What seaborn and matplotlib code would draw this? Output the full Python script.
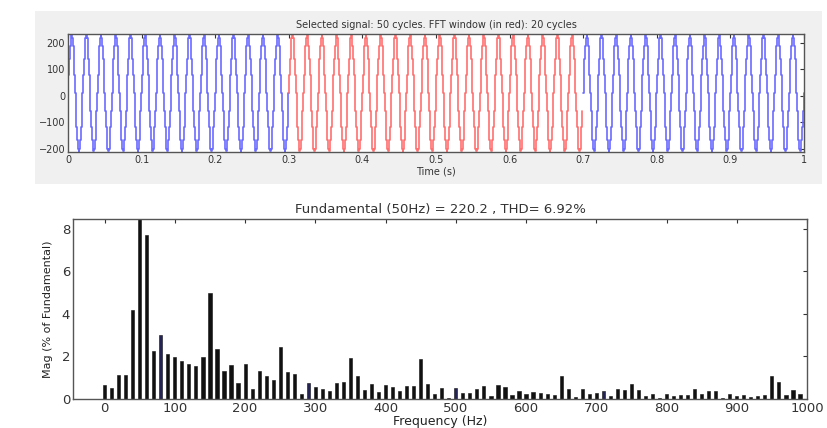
import numpy as np
import pandas as pd
import matplotlib
matplotlib.use("Agg")
import matplotlib.pyplot as plt
import seaborn as sns

# --- signal (top panel): 50 Hz wave, 1 s long, FFT window 0.3..0.7 s in red
fund_freq = 50.0
fund_amp = 220.0
dc_offset = 10.0
sample_rate = 1000
window_start, window_end = 0.3, 0.7

# --- spectrum (bottom panel), every 10 Hz, % of fundamental
freqs = list(range(0, 1000, 10))
mags = [
    0.64, 0.52, 1.14, 1.14, 4.20, 8.60, 7.70, 2.23, 3.00, 2.10,
    1.97, 1.80, 1.65, 1.53, 1.97, 4.96, 2.36, 1.33, 1.60, 0.75,
    1.65, 0.48, 1.33, 1.06, 0.90, 2.42, 1.25, 1.19, 0.25, 0.75,
    0.56, 0.47, 0.36, 0.75, 0.80, 1.92, 1.09, 0.40, 0.72, 0.33,
    0.64, 0.55, 0.36, 0.62, 0.60, 1.89, 0.72, 0.23, 0.52, 0.03,
    0.52, 0.28, 0.28, 0.48, 0.60, 0.15, 0.67, 0.56, 0.20, 0.36,
    0.25, 0.33, 0.28, 0.25, 0.20, 1.10, 0.47, 0.10, 0.47, 0.25,
    0.28, 0.36, 0.15, 0.47, 0.44, 0.70, 0.40, 0.15, 0.25, 0.03,
    0.25, 0.15, 0.20, 0.20, 0.48, 0.25, 0.36, 0.36, 0.03, 0.25,
    0.15, 0.20, 0.10, 0.12, 0.20, 1.10, 0.78, 0.20, 0.40, 0.25,
]
navy_freqs = [80, 290, 500, 710]

top_title = "Selected signal: 50 cycles. FFT window (in red): 20 cycles"
bottom_title = "Fundamental (50Hz) = 220.2 , THD= 6.92%"

sns.set_theme(style="white")
plt.rcParams["font.family"] = ["DejaVu Sans"]

fig = plt.figure(figsize=(8.28, 4.28), dpi=100)

# gray panel behind top plot
fig.patches.append(plt.Rectangle((35 / 828, 1 - 184 / 428), 787 / 828, 173 / 428,
                                 transform=fig.transFigure, facecolor="#f0f0f0",
                                 edgecolor="none", zorder=-5))

ax1 = fig.add_axes([68 / 828, 1 - 152 / 428, 736 / 828, 118 / 428])
ax2 = fig.add_axes([73 / 828, 1 - 399 / 428, 734 / 828, 180 / 428])

# top: time signal
t = np.arange(0, 1 + 1 / sample_rate, 1 / sample_rate)
sig = dc_offset + fund_amp * np.sin(2 * np.pi * fund_freq * t)
df_sig = pd.DataFrame({"t": t, "v": sig})
parts = [
    (df_sig[df_sig.t <= window_start], "#6b6bff"),
    (df_sig[(df_sig.t >= window_start) & (df_sig.t <= window_end)], "#ff7070"),
    (df_sig[df_sig.t >= window_end], "#6b6bff"),
]
for part, col in parts:
    sns.lineplot(data=part, x="t", y="v", ax=ax1, color=col, lw=1.2,
                 estimator=None, sort=False, drawstyle="steps-mid")
ax1.set_xlim(0, 1)
ax1.set_ylim(-212, 234)
ax1.set_xticks(np.arange(0, 1.01, 0.1))
ax1.set_xticklabels(["0", "0.1", "0.2", "0.3", "0.4", "0.5", "0.6", "0.7", "0.8", "0.9", "1"])
ax1.set_yticks([-200, -100, 0, 100, 200])
ax1.set_xlabel("Time (s)", fontsize=7, labelpad=1, color="#333333")
ax1.set_ylabel("")
ax1.set_title(top_title, fontsize=7, pad=4, color="#333333")

# bottom: spectrum bars
df_spec = pd.DataFrame({"f": freqs, "m": mags})
df_spec["c"] = np.where(df_spec.f.isin(navy_freqs), "navy", "black")
sns.barplot(data=df_spec, x="f", y="m", hue="c", palette={"black": "#111111", "navy": "#1a1a60"},
            native_scale=True, dodge=False, width=0.45, legend=False, ax=ax2,
            edgecolor="#111111", linewidth=0.4)
ax2.set_xlim(-45, 1000)
ax2.set_ylim(0, 8.45)
ax2.set_xticks(range(0, 1001, 100))
ax2.set_yticks([0, 2, 4, 6, 8])
ax2.set_title(bottom_title, fontsize=9.5, pad=4, color="#333333")
ax2.set_xlabel("Frequency (Hz)", fontsize=9, labelpad=0, color="#222222")
ax2.set_ylabel("Mag (% of Fundamental)", fontsize=8, color="#222222",
               family=["Liberation Sans Narrow", "DejaVu Sans"], labelpad=6)

for ax, fs in ((ax1, 7), (ax2, 9.5)):
    ax.set_facecolor("white")
    ax.tick_params(direction="in", top=True, right=True, length=3, width=0.8,
                   labelsize=fs, colors="#333333", pad=2)
    for s in ax.spines.values():
        s.set_color("#555555")
        s.set_linewidth(1.0)

fig.savefig("out.png", dpi=100)
